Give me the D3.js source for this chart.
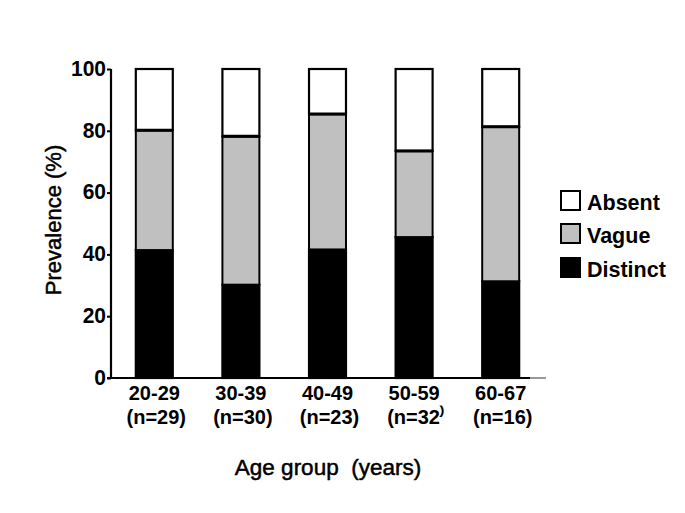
<!DOCTYPE html>
<html>
<head>
<meta charset="utf-8">
<script src="https://cdn.jsdelivr.net/npm/d3@7"></script>
<style>
  html, body { margin: 0; padding: 0; background: #fff; }
  text { font-family: "Liberation Sans", Arial, sans-serif; }
</style>
</head>
<body>
<svg id="chart" width="685" height="513"></svg>
<script>
const groups = ["20-29", "30-39", "40-49", "50-59", "60-67"];
const groupN = ["(n=29)", "(n=30)", "(n=23)", "(n=32\u207E", "(n=16)"];
const distinct = [41.4, 30.2, 41.6, 45.6, 31.3];
const vague = [38.8, 48.0, 43.8, 27.9, 50.0];
const absent = [19.8, 21.8, 14.6, 26.5, 18.7];
const seriesNames = ["Absent", "Vague", "Distinct"];
const seriesColors = ["#ffffff", "#c0c0c0", "#000000"];
const yTicks = [0, 20, 40, 60, 80, 100];

const svg = d3.select("#chart");
const x = d3.scaleBand().domain(groups).range([111, 544]).paddingInner(0.573).paddingOuter(0.2865);
const y = d3.scaleLinear().domain([0, 100]).range([378, 69]);

const rows = groups.map((g, i) => ({ group: g, Distinct: distinct[i], Vague: vague[i], Absent: absent[i] }));
const stack = d3.stack().keys(["Distinct", "Vague", "Absent"]);
const layers = stack(rows);
const colorOf = k => seriesColors[seriesNames.indexOf(k)];

// bars
layers.forEach(layer => {
  svg.append("g").selectAll("rect").data(layer).join("rect")
    .attr("x", d => x(d.data.group))
    .attr("y", d => y(d[1]))
    .attr("width", x.bandwidth())
    .attr("height", d => y(d[0]) - y(d[1]))
    .attr("fill", colorOf(layer.key))
    .attr("stroke", "#000")
    .attr("stroke-width", layer.key === "Vague" ? 2 : 2.2);
});
// separator line between vague and absent (thicker)
svg.append("g").selectAll("line").data(layers[1]).join("line")
  .attr("x1", d => x(d.data.group))
  .attr("x2", d => x(d.data.group) + x.bandwidth())
  .attr("y1", d => y(d[1]))
  .attr("y2", d => y(d[1]))
  .attr("stroke", "#000").attr("stroke-width", 3);

// y axis
const yAxis = d3.axisLeft(y).tickValues(yTicks).tickSize(4).tickPadding(1);
const gy = svg.append("g").attr("transform", "translate(111,0)").call(yAxis);
gy.select(".domain").attr("stroke", "#000").attr("stroke-width", 2.2).attr("d", `M0,${y(100)}V${y(0)}`);
gy.selectAll(".tick line").attr("stroke", "#000").attr("stroke-width", 2);
gy.selectAll(".tick text").attr("font-size", 21).attr("font-weight", "bold").attr("fill", "#000")
  .attr("font-family", "Liberation Sans, Arial, sans-serif")
  .attr("transform", "scale(1,1.08)").attr("dy", "0.28em");

// x axis
const xAxis = d3.axisBottom(x).tickSize(0).tickPadding(0).tickFormat(() => "");
const gx = svg.append("g").attr("transform", `translate(0,${y(0)})`).call(xAxis);
gx.select(".domain").remove();
gx.append("line").attr("x1", 107).attr("x2", 530).attr("y1", 0).attr("y2", 0).attr("stroke", "#000").attr("stroke-width", 2.2);
gx.append("line").attr("x1", 530).attr("x2", 546).attr("y1", 0).attr("y2", 0).attr("stroke", "#999").attr("stroke-width", 2);
gx.selectAll(".tick").each(function(d, i) {
  const t = d3.select(this);
  t.select("text").remove();
  t.append("text").attr("y", 22).attr("text-anchor", "middle").attr("font-size", 20).attr("font-weight", "bold").attr("fill", "#000").text(groups[i]);
  t.append("text").attr("x", 2).attr("y", 46).attr("text-anchor", "middle").attr("font-size", 20).attr("font-weight", "bold").attr("fill", "#000").text(groupN[i]);
});

// axis titles
svg.append("text").attr("x", 328).attr("y", 475).attr("text-anchor", "middle")
  .attr("font-size", 22.5).attr("fill", "#000").attr("stroke", "#000").attr("stroke-width", 0.5)
  .style("white-space", "pre").text("Age group  (years)");
svg.append("text").attr("transform", "translate(61,220) rotate(-90)").attr("text-anchor", "middle")
  .attr("font-size", 22).attr("fill", "#000").attr("stroke", "#000").attr("stroke-width", 0.5)
  .text("Prevalence (%)");

// legend
const legendY = [191, 224, 258];
const lg = svg.append("g");
seriesNames.forEach((name, i) => {
  lg.append("rect").attr("x", 561).attr("y", legendY[i]).attr("width", 19).attr("height", 19)
    .attr("fill", seriesColors[i]).attr("stroke", "#000").attr("stroke-width", 2);
  lg.append("text").attr("x", 587).attr("y", legendY[i] + 19).attr("font-size", 21.5).attr("font-weight", "bold").attr("fill", "#000").text(name);
});
</script>
</body>
</html>
